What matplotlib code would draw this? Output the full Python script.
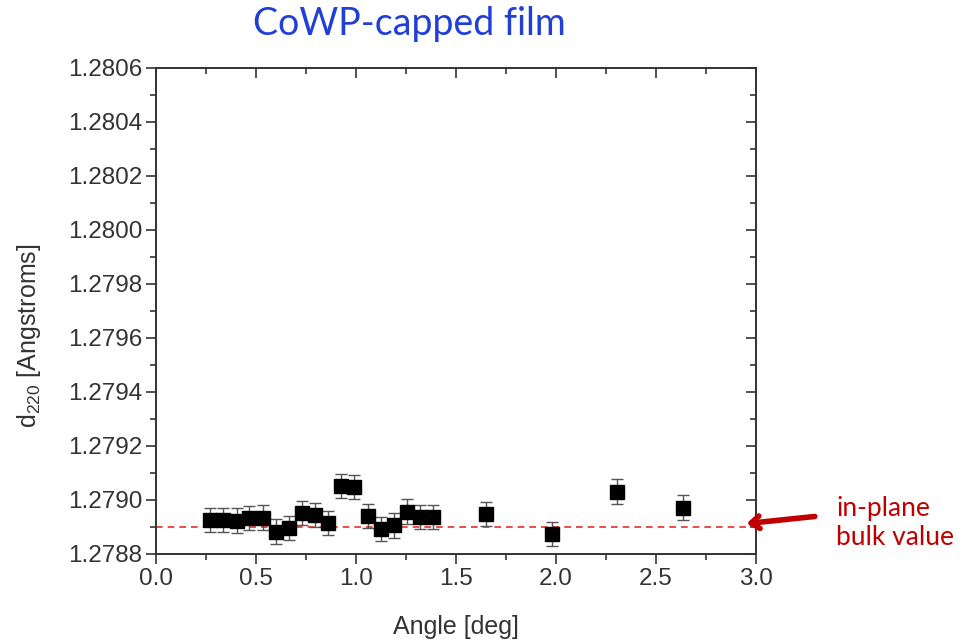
import matplotlib
matplotlib.use("Agg")
import matplotlib.pyplot as plt
from matplotlib.ticker import MultipleLocator, FormatStrFormatter

plt.rcParams['mathtext.fontset'] = 'custom'
plt.rcParams['mathtext.rm'] = 'Liberation Sans'
plt.rcParams['mathtext.it'] = 'Liberation Sans:italic'
plt.rcParams['mathtext.bf'] = 'Liberation Sans:bold'

angle = [0.27, 0.337, 0.403, 0.465, 0.537, 0.598, 0.663, 0.728, 0.795, 0.862,
         0.923, 0.99, 1.06, 1.125, 1.188, 1.253, 1.32, 1.387, 1.65, 1.978, 2.303, 2.633]
d220 = [1.278926, 1.278926, 1.278924, 1.278932, 1.278935, 1.278883, 1.278895,
        1.278953, 1.278945, 1.278914, 1.279052, 1.279048, 1.27894, 1.278893,
        1.278906, 1.278957, 1.278936, 1.278936, 1.278948, 1.278873, 1.279031, 1.278972]
err = [0.000045] * len(angle)
bulk_value = 1.2789

title = "CoWP-capped film"
xlabel = "Angle [deg]"
ylabel = r"d$_{\mathrm{220}}$ [Angstroms]"
note = "in-plane\nbulk value"

fig = plt.figure(figsize=(9.71, 6.42), dpi=100)
ax = fig.add_axes([0.1607, 0.1371, 0.6179, 0.7570])

ax.errorbar(angle, d220, yerr=err, fmt='s', color='black', markersize=9.5,
            ecolor='#555555', elinewidth=1.0, capsize=4.5, capthick=1.0, zorder=3)
ax.axhline(bulk_value, color='#e8302a', linestyle=(0, (4, 3)), linewidth=1.2, zorder=2)

ax.set_xlim(0, 3.0)
ax.set_ylim(1.2788, 1.2806)
ax.xaxis.set_major_locator(MultipleLocator(0.5))
ax.xaxis.set_minor_locator(MultipleLocator(0.25))
ax.yaxis.set_major_locator(MultipleLocator(0.0002))
ax.yaxis.set_minor_locator(MultipleLocator(0.0001))
ax.yaxis.set_major_formatter(FormatStrFormatter('%.4f'))
ax.xaxis.set_major_formatter(FormatStrFormatter('%.1f'))

for lab in ax.get_xticklabels() + ax.get_yticklabels():
    lab.set_fontfamily('Liberation Sans')
    lab.set_fontsize(17.5)
    lab.set_color('#333333')

for s in ax.spines.values():
    s.set_linewidth(1.4)
    s.set_color('#333333')

ax.tick_params(axis='both', which='major', direction='out', length=7, width=1.2,
               color='#333333', pad=3)
ax.tick_params(axis='both', which='minor', direction='out', length=4, width=1.2,
               color='#333333')
ax.tick_params(axis='both', which='both', top=True, right=True)
for t in ax.xaxis.get_major_ticks() + ax.xaxis.get_minor_ticks():
    t.tick2line.set_marker(matplotlib.lines.TICKDOWN)
for t in ax.yaxis.get_major_ticks() + ax.yaxis.get_minor_ticks():
    t.tick2line.set_marker(matplotlib.lines.TICKLEFT)

ax.set_xlabel(xlabel, fontfamily='Liberation Sans', fontsize=18, color='#333333', labelpad=18)
ax.set_ylabel(ylabel, fontfamily='Liberation Sans', fontsize=18, color='#333333')
ax.yaxis.set_label_coords(-0.188, 0.45)

fig.text(0.422, 0.963, title, ha='center', va='center', color='#1f3fd6',
         fontfamily='Lato', fontsize=27)

fig.text(0.861, 0.185, note, ha='left', va='center', color='#c00000',
         fontfamily='Lato', fontsize=19, linespacing=1.2)

ax.annotate('', xy=(0.766, 0.184), xycoords='figure fraction',
            xytext=(0.842, 0.196), textcoords='figure fraction',
            arrowprops=dict(arrowstyle='->,head_length=0.6,head_width=0.45',
                            color='#c00000', lw=4), annotation_clip=False)

fig.savefig('out.png', dpi=100)
